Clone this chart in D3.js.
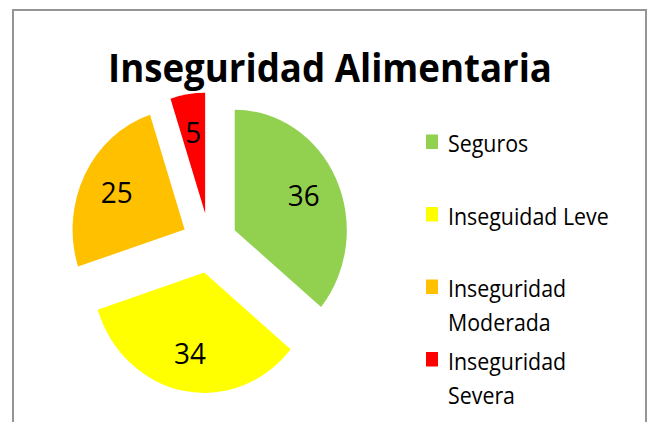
<!DOCTYPE html>
<html>
  <head>
    <meta charset="utf-8">
    <title>Inseguridad Alimentaria</title>
    <script src="https://cdnjs.cloudflare.com/ajax/libs/d3/7.8.5/d3.min.js"></script>
    <style>
      body { margin: 0; background: #fff; }
      svg { display: block; font-family: "Open Sans", sans-serif; }
    </style>
  </head>
  <body>
    <div id="chart"></div>
    <script>
      // data
      const categories = ["Seguros", "Inseguidad Leve", "Inseguridad Moderada", "Inseguridad Severa"];
      const values = [36, 34, 25, 5];
      const legendLines = [["Seguros"], ["Inseguidad Leve"], ["Inseguridad", "Moderada"], ["Inseguridad", "Severa"]];
      const colors = ["#92D050", "#FFFF00", "#FFC000", "#FF0000"];

      const width = 652, height = 422;
      // the original picture is squeezed horizontally
      const sx = 0.93;

      const svg = d3.select("#chart").append("svg")
        .attr("width", width)
        .attr("height", height);

      // outer frame (bottom edge is cut off)
      svg.append("rect")
        .attr("x", 13).attr("y", 10)
        .attr("width", 633).attr("height", 440)
        .attr("fill", "#fff")
        .attr("stroke", "#959595")
        .attr("stroke-width", 2);

      // title
      svg.append("text")
        .attr("x", 330).attr("y", 82)
        .attr("text-anchor", "middle")
        .attr("font-size", 40)
        .attr("font-weight", "bold")
        .attr("textLength", 444)
        .attr("lengthAdjust", "spacingAndGlyphs")
        .text("Inseguridad Alimentaria");

      // pie
      const radius = 120.5, explode = 30, labelR = 82;
      const pie = d3.pie().sort(null).value(d => d);
      const arc = d3.arc().innerRadius(0).outerRadius(radius);
      const labelArc = d3.arc().innerRadius(labelR).outerRadius(labelR);

      const pieG = svg.append("g")
        .attr("transform", `translate(209.5,243) scale(${sx},1)`);

      const slices = pieG.selectAll(".slice")
        .data(pie(values))
        .enter().append("g")
          .attr("class", "slice")
          .attr("transform", d => {
            const mid = (d.startAngle + d.endAngle) / 2;
            return `translate(${explode * Math.sin(mid)},${-explode * Math.cos(mid)})`;
          });

      slices.append("path")
        .attr("d", arc)
        .attr("fill", (d, i) => colors[i]);

      slices.append("text")
        .attr("x", d => labelArc.centroid(d)[0])
        .attr("y", d => labelArc.centroid(d)[1] + 10.7)
        .attr("text-anchor", "middle")
        .attr("font-size", 30)
        .attr("fill", "#000")
        .text(d => d.data);

      // legend
      const rowY = d3.scalePoint().domain(categories).range([152, 369.5]);
      const legend = svg.selectAll(".legend")
        .data(categories)
        .enter().append("g")
          .attr("class", "legend")
          .attr("transform", d => `translate(426,${rowY(d)})`);

      legend.append("rect")
        .attr("x", 0).attr("y", -17.5)
        .attr("width", 12).attr("height", 14.5)
        .attr("fill", (d, i) => colors[i]);

      legend.append("g")
        .attr("transform", `translate(22,0) scale(${sx},1)`)
        .selectAll("text")
        .data((d, i) => legendLines[i])
        .enter().append("text")
          .attr("x", 0)
          .attr("y", (d, j) => j * 34.3)
          .attr("font-size", 23)
          .attr("fill", "#000")
          .text(d => d);
    </script>
  </body>
</html>
